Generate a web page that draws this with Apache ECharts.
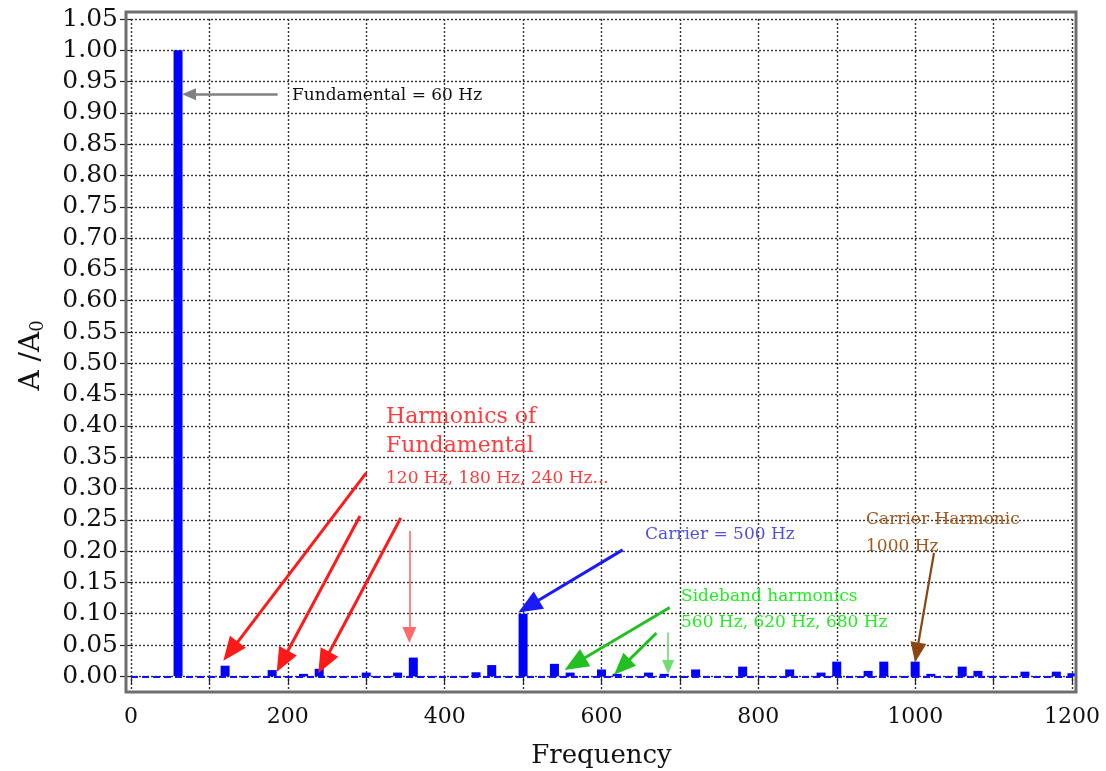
<!DOCTYPE html>
<html>
<head>
<meta charset="utf-8">
<script src="https://cdn.jsdelivr.net/npm/echarts@6/dist/echarts.min.js"></script>
<style>
  html, body { margin: 0; padding: 0; background: #fff; }
  #chart { width: 1106px; height: 771px; }
</style>
</head>
<body>
<div id="chart"></div>
<script>
// Normalised spectrum of a PWM output (amplitude relative to the fundamental)
const freqHz = [60, 120, 180, 220, 240, 300, 340, 360, 440, 460, 500, 540, 560, 600, 620,
                660, 680, 720, 780, 840, 880, 900, 940, 960, 1000, 1020, 1060, 1080, 1140, 1180, 1200];
const amplitude = [1.00, 0.017, 0.010, 0.004, 0.012, 0.006, 0.006, 0.030, 0.0065, 0.018, 0.100, 0.020, 0.006, 0.011, 0.004,
                   0.006, 0.004, 0.011, 0.0155, 0.011, 0.006, 0.0235, 0.0087, 0.0235, 0.0235, 0.004, 0.0155, 0.0087, 0.0075, 0.0075, 0.005];

const yTicks = [0, 0.05, 0.10, 0.15, 0.20, 0.25, 0.30, 0.35, 0.40, 0.45, 0.50, 0.55,
                0.60, 0.65, 0.70, 0.75, 0.80, 0.85, 0.90, 0.95, 1.00, 1.05];
const xLabels = [0, 200, 400, 600, 800, 1000, 1200];
const xRange = [0, 1200];

const SERIF = '"DejaVu Serif", "Liberation Serif", serif';

// annotation arrows: [fromHz, fromA, toHz, toA, line colour, width, head colour, head size]
const arrows = [
  [187, 0.93, 74, 0.93, '#808080', 2.5, '#000', [12, 14]],
  [300, 0.325, 127, 0.040, '#ff1a1a', 3, '#ff1a1a', [20, 24]],
  [292, 0.256, 193, 0.024, '#ff1a1a', 3, '#ff1a1a', [20, 24]],
  [344, 0.253, 246, 0.022, '#ff1a1a', 3, '#ff1a1a', [20, 24]],
  [355, 0.232, 355, 0.066, '#ff6a6a', 1.6, '#ff3030', [14, 16]],
  [627, 0.202, 507, 0.112, '#1a1aff', 3, '#1a1aff', [20, 24]],
  [687, 0.110, 566, 0.020, '#22c022', 3, '#22c022', [20, 24]],
  [670, 0.069, 626, 0.015, '#22c022', 3, '#22c022', [18, 22]],
  [685, 0.070, 685, 0.015, '#70dd70', 1.6, '#44cc44', [12, 14]],
  [1024, 0.197, 1002, 0.038, '#8b4513', 2.2, '#8b4513', [16, 20]]
];

const markLines = arrows.map(a => [
  { coord: [a[0], a[1]], symbol: 'none', lineStyle: { color: a[4], width: a[5], type: 'solid' } },
  { coord: [a[2], a[3]], symbol: 'triangle', symbolSize: a[7], itemStyle: { color: a[6] } }
]);
// blue zero line under the bars
markLines.unshift([
  { coord: [xRange[0], 0], symbol: 'none', lineStyle: { color: '#1010ff', width: 2, type: [7, 4] } },
  { coord: [xRange[1], 0], symbol: 'none' }
]);

const chart = echarts.init(document.getElementById('chart'), null, { renderer: 'canvas' });

function txt(left, top, text, size, color) {
  return { type: 'text', left: left, top: top, z: 50,
           style: { text: text, font: size + 'px ' + SERIF, fill: color } };
}

chart.setOption({
  animation: false,
  backgroundColor: '#fff',
  grid: { left: 131, right: 34, top: 19, bottom: 79, containLabel: false, outerBoundsMode: 'none' },
  xAxis: {
    type: 'value', min: xRange[0], max: xRange[1], interval: 100,
    name: 'Frequency', nameLocation: 'middle', nameGap: 51,
    nameTextStyle: { fontFamily: SERIF, fontSize: 26, color: '#111' },
    axisLine: { show: false },
    axisTick: { show: true, inside: false, length: 8, lineStyle: { color: '#222', width: 1.2 } },
    axisLabel: {
      margin: 14, fontFamily: SERIF, fontSize: 22, color: '#111',
      formatter: v => xLabels.indexOf(v) >= 0 ? String(v) : ''
    },
    splitLine: { show: true, lineStyle: { color: '#333', width: 1.4, type: [2, 2] } }
  },
  yAxis: {
    type: 'value', min: -0.025, max: 1.05, interval: 0.025,
    name: '{a|A /A}{s|0}', nameLocation: 'middle', nameGap: 84, nameRotate: 90,
    nameTextStyle: {
      rich: {
        a: { fontFamily: SERIF, fontSize: 28, color: '#111' },
        s: { fontFamily: SERIF, fontSize: 18, color: '#111', padding: [12, 0, 0, 0] }
      }
    },
    axisLine: { show: false },
    axisTick: { show: true, length: 11, customValues: yTicks, lineStyle: { color: '#222', width: 1.2 } },
    axisLabel: {
      margin: 13, fontFamily: SERIF, fontSize: 25, color: '#111',
      customValues: yTicks, formatter: v => v.toFixed(2)
    },
    splitLine: { show: true, lineStyle: { color: '#333', width: 1.4, type: [2, 2] } }
  },
  series: [{
    type: 'bar',
    data: freqHz.map((f, i) => [f, amplitude[i]]),
    barWidth: 9,
    itemStyle: { color: '#0000ff' },
    emphasis: { disabled: true },
    markLine: {
      silent: true, animation: false,
      symbol: ['none', 'none'],
      label: { show: false },
      emphasis: { disabled: true },
      data: markLines
    }
  }],
  graphic: [
    { type: 'rect', shape: { x: 126, y: 12, width: 950, height: 680 }, z: 40, silent: true,
      style: { fill: 'none', stroke: '#6e6e6e', lineWidth: 3 } },
    txt(292, 87, 'Fundamental = 60 Hz', 17, '#111'),
    txt(386, 406, 'Harmonics of', 22, '#ff3b3b'),
    txt(386, 435, 'Fundamental', 22, '#ff3b3b'),
    txt(386, 470, '120 Hz, 180 Hz, 240 Hz...', 17, '#ff3b3b'),
    txt(645, 526, 'Carrier = 500 Hz', 17, '#5050e6'),
    txt(681, 588, 'Sideband harmonics', 17, '#22ee22'),
    txt(681, 614, '560 Hz, 620 Hz, 680 Hz', 17, '#22ee22'),
    txt(866, 511, 'Carrier Harmonic', 17, '#a0581c'),
    txt(866, 538, '1000 Hz', 17, '#a0581c')
  ]
});
</script>
</body>
</html>
